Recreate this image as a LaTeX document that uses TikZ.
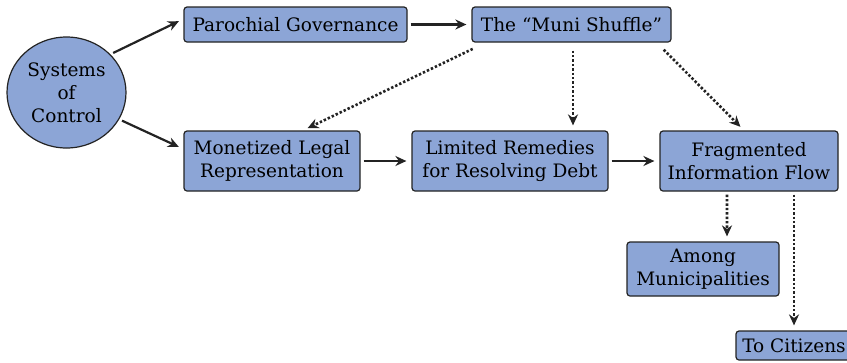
\documentclass[tikz,border=0pt]{standalone}
\usepackage{fontspec}
\setmainfont{DejaVu Serif}
\usetikzlibrary{arrows.meta,shapes.geometric}
\definecolor{azul}{RGB}{140,165,214}
\definecolor{borda}{RGB}{35,35,35}
\tikzset{
	caixa/.style={draw=borda, line width=1.2bp, fill=azul, rounded corners=3bp, align=center,
		inner sep=0pt, font=\fontsize{18.5bp}{23bp}\selectfont},
	seta/.style={-{Stealth[length=11bp,width=10bp]}, line width=2.2bp, draw=borda,
		shorten <=3bp, shorten >=5bp},
	pontilhada/.style={seta, line width=2.6bp, dash pattern=on 2.4bp off 2bp}
}
\begin{document}
\begin{tikzpicture}[x=1bp,y=-1bp]
	\useasboundingbox (0,0) rectangle (847,362);

% caixas
	\node[caixa, ellipse, rounded corners=0pt, minimum width=119bp, minimum height=111bp]
		(sistemas) at (66.5,92.5) {Systems\\of\\Control};
	\node[caixa, minimum width=223bp, minimum height=35bp] (paroquial) at (295.5,24.5) {Parochial Governance};
	\node[caixa, minimum width=199bp, minimum height=35bp] (muni) at (571.5,24.5) {The “Muni Shuffle”};
	\node[caixa, minimum width=176bp, minimum height=60bp] (legal) at (272,161) {Monetized Legal\\Representation};
	\node[caixa, minimum width=196bp, minimum height=60bp] (remedios) at (510,161) {Limited Remedies\\for Resolving Debt};
	\node[caixa, minimum width=178bp, minimum height=60bp] (fluxo) at (749,161) {Fragmented\\Information Flow};
	\node[caixa, minimum width=152bp, minimum height=54bp] (municipios) at (703,269) {Among\\Municipalities};
	\node[caixa, minimum width=116bp, minimum height=29bp] (cidadaos) at (794,345.5) {To Citizens};

% setas cheias
	\draw[seta] (sistemas.41) -- ([yshift=5.5bp]paroquial.west);
	\draw[seta] (sistemas.-27) -- ([yshift=12bp]legal.west);
	\draw[seta] (paroquial) -- (muni);
	\draw[seta] (legal) -- (remedios);
	\draw[seta] (remedios) -- (fluxo);

% setas pontilhadas
	\draw[pontilhada] ([xshift=4bp,yshift=-5bp]muni.south west) -- ([xshift=31bp]legal.north);
	\draw[pontilhada, shorten <=8bp] ([xshift=1.5bp]muni.south) -- ([xshift=1.5bp]muni.south |- remedios.north);
	\draw[pontilhada] ([xshift=-10bp,yshift=-5bp]muni.south east) -- ([xshift=-5bp]fluxo.north);
	\draw[pontilhada] ([xshift=-22bp]fluxo.south) -- ([xshift=24bp]municipios.north);
	\draw[pontilhada] (fluxo.south -| cidadaos.north) -- (cidadaos.north);
\end{tikzpicture}
\end{document}
